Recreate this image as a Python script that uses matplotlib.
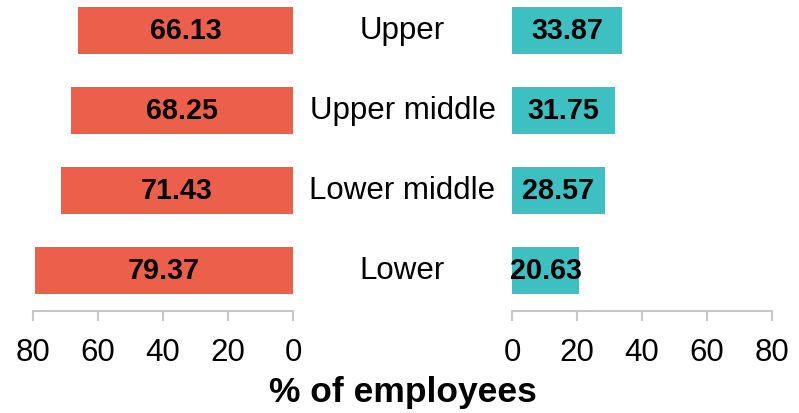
import matplotlib.pyplot as plt
import matplotlib.transforms as mtransforms

# data
classes = ["Lower", "Lower middle", "Upper middle", "Upper"]
left_vals = [79.37, 71.43, 68.25, 66.13]
right_vals = [20.63, 28.57, 31.75, 33.87]
ticks = [0, 20, 40, 60, 80]

plt.rcParams['font.family'] = ['Liberation Sans', 'DejaVu Sans']

fig = plt.figure(figsize=(7.99, 4.14), dpi=100)
ax_l = fig.add_axes([33 / 799, 102 / 414, 260 / 799, 312 / 414])
ax_r = fig.add_axes([512 / 799, 102 / 414, 260 / 799, 312 / 414])

ypos = list(range(len(classes)))

for ax, vals, col in [(ax_l, left_vals, '#EC5F4B'), (ax_r, right_vals, '#3CC0C2')]:
    bars = ax.barh(ypos, vals, height=0.59, color=col)
    for b, v in zip(bars, vals):
        ax.text(b.get_x() + b.get_width() / 2, b.get_y() + b.get_height() / 2,
                f"{v:.2f}", ha='center', va='center', fontsize=20.7,
                fontweight='bold', color='black')
    ax.set_xlim(0, 80)
    ax.set_ylim(-0.506, 3.39)
    ax.set_xticks(ticks)
    ax.set_yticks([])
    for s in ['left', 'right', 'top']:
        ax.spines[s].set_visible(False)
    ax.spines['bottom'].set_color('#C8C8C8')
    ax.spines['bottom'].set_linewidth(1.5)
    ax.tick_params(axis='x', length=7, width=1.5, color='#C8C8C8',
                   labelsize=22.5, pad=12)
    ax.patch.set_alpha(0)

ax_l.invert_xaxis()

# category labels in the middle
trans = mtransforms.blended_transform_factory(fig.transFigure, ax_l.transData)
for y, name in zip(ypos, classes):
    ax_l.text(402.5 / 799, y, name, transform=trans, ha='center',
              va='center', fontsize=22.5, clip_on=False)

fig.text(403 / 799, 1 - 393 / 414, "% of employees", ha='center', va='center',
         fontsize=25.5, fontweight='bold')

fig.savefig("out.png", dpi=100)
